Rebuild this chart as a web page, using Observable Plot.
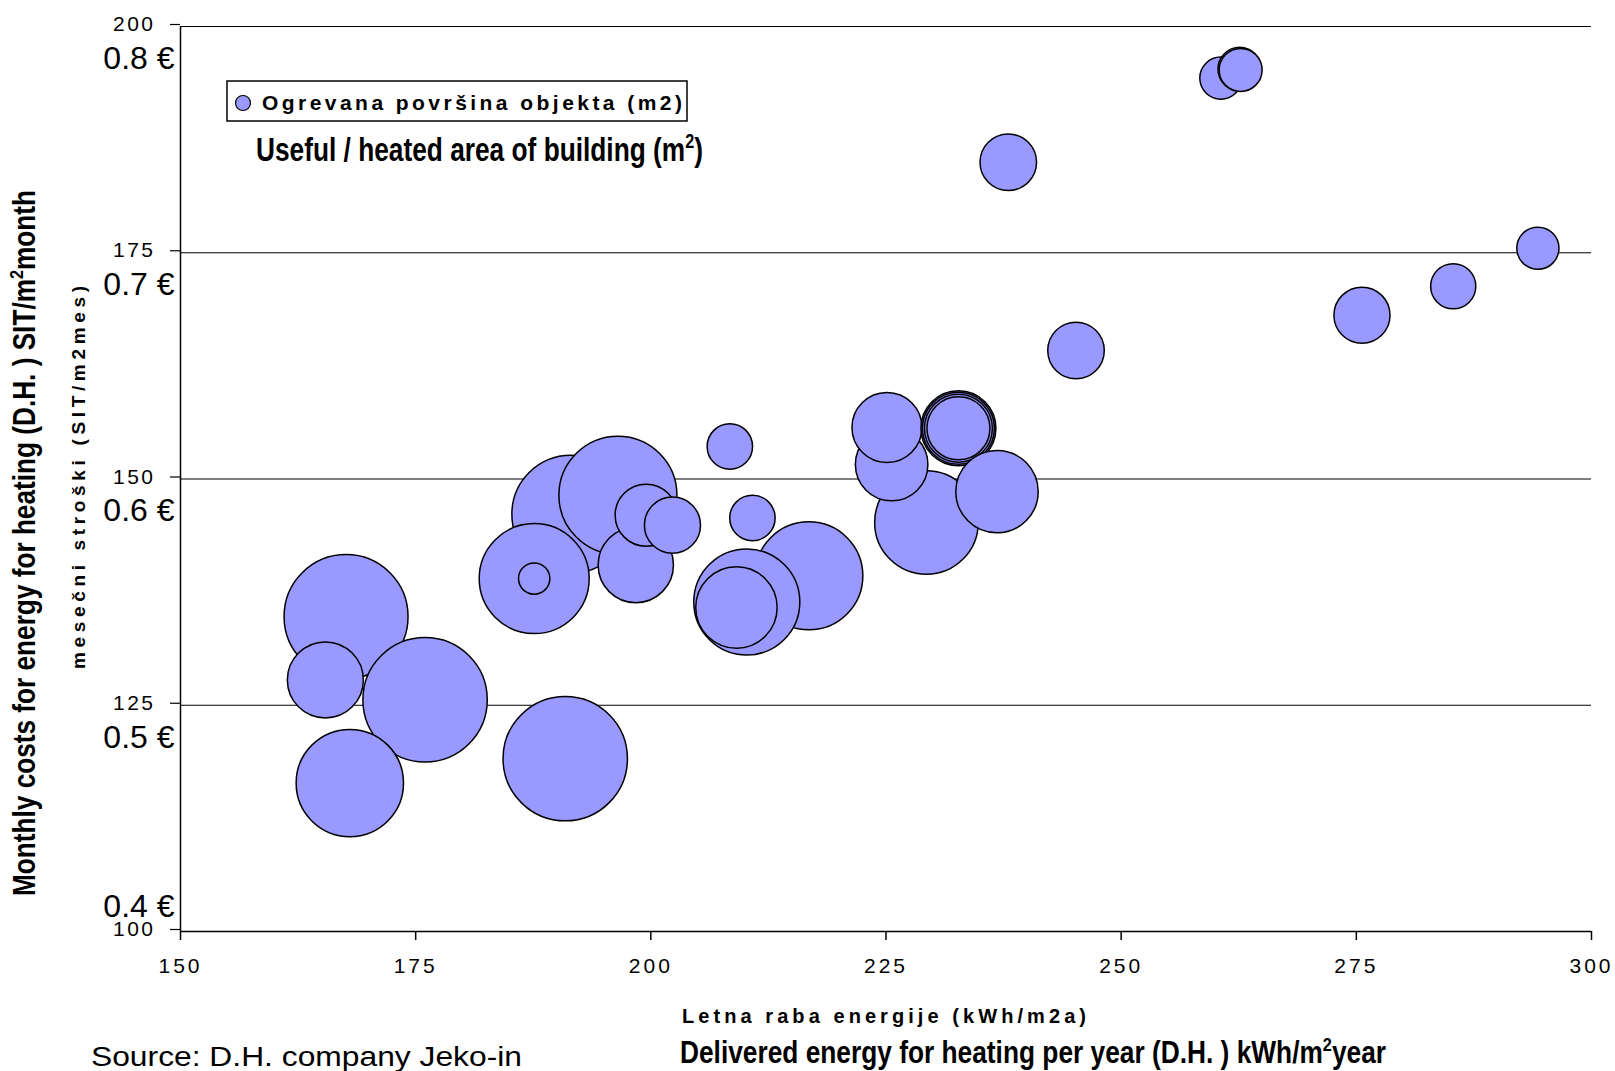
<!DOCTYPE html>
<html>
<head>
<meta charset="utf-8">
<script src="https://cdn.jsdelivr.net/npm/d3@7"></script>
<script src="https://cdn.jsdelivr.net/npm/@observablehq/plot@0.6"></script>
<style>
  html, body { margin: 0; padding: 0; background: #fff; }
  #chart { width: 1615px; height: 1071px; overflow: hidden; }
  g[aria-label="x-axis tick label"] text { letter-spacing: 3px; }
  text.ann { text-anchor: start; }
</style>
</head>
<body>
<div id="chart"></div>
<script>
// Delivered energy (kWh/m2a), monthly cost (SIT/m2 month), heated area (m2) — in drawing order
const energy = [260.6, 262.6, 262.7, 238.0, 294.3, 285.3, 275.6, 245.2,
                229.3, 225.6, 225.1, 232.7, 232.7, 232.7, 232.7, 236.8,
                208.4, 210.8, 216.8, 210.2, 209.1,
                191.5, 196.5, 198.4, 199.5, 202.3, 187.6, 187.6,
                167.6, 165.4, 176.0, 168.0, 190.9];
const cost   = [194.3, 195.3, 195.2, 185.0, 175.5, 171.3, 168.1, 164.2,
                145.2, 151.6, 155.7, 155.6, 155.6, 155.6, 155.6, 148.6,
                153.6, 145.7, 139.3, 136.4, 135.8,
                146.1, 148.2, 140.5, 146.0, 144.9, 139.0, 139.0,
                134.8, 127.8, 125.6, 116.4, 119.1];
const area   = [690, 730, 715, 1240, 690, 790, 1220, 1240,
                4160, 2040, 1900, 2180, 2010, 1790, 1540, 2630,
                800, 800, 4520, 4360, 2570,
                5400, 5400, 2200, 1490, 1220, 4690, 380,
                5960, 2240, 6000, 4470, 6000];

const xTicks = [150, 175, 200, 225, 250, 275, 300];
const yTicks = [100, 125, 150, 175, 200];
const gridLines = [125, 150, 175, 200];
const euroTicks = [125, 150, 175, 200]; // labelled as SIT/250 in €
const euroBottom = [100];

const data = energy.map((x, i) => ({x, y: cost[i], a: area[i]}));
const euro = d => (d / 250).toFixed(1) + " €";

const plot = Plot.plot({
  width: 1615,
  height: 1071,
  marginTop: 26,
  marginRight: 24,
  marginBottom: 140,
  marginLeft: 180,
  style: {fontFamily: "'Liberation Sans', Arial, sans-serif", background: "white", color: "black"},
  x: {domain: [150, 300]},
  y: {domain: [100, 200]},
  r: {type: "sqrt", domain: [0, 6000], range: [0, 62.2]},
  marks: [
    Plot.ruleY(gridLines, {stroke: "black", strokeWidth: 1.2}),
    Plot.ruleY([100], {stroke: "black", strokeWidth: 1.5}),
    Plot.ruleX([150], {stroke: "black", strokeWidth: 1.5}),
    Plot.axisX(xTicks, {tickSize: 9, tickPadding: 18, fontSize: 21, label: null, strokeWidth: 1.5}),
    Plot.axisY(yTicks, {tickSize: 10, tickPadding: 15, fontSize: 21, dy: -2, label: null, strokeWidth: 1.2}),
    Plot.axisY(euroTicks, {tickSize: 0, tickPadding: 6, fontSize: 32, dy: 32, tickFormat: euro, label: null}),
    Plot.axisY(euroBottom, {tickSize: 0, tickPadding: 6, fontSize: 32, dy: -25, tickFormat: euro, label: null}),
    Plot.dot(data, {x: "x", y: "y", r: "a", fill: "#9999ff", stroke: "black", strokeWidth: 1.5, sort: null})
  ]
});
document.getElementById("chart").appendChild(plot);

const svg = d3.select(plot);
const ff = "'Liberation Sans', Arial, sans-serif";

// letter-spacing for the SIT tick numbers only
svg.selectAll('g[aria-label="y-axis tick label"]')
  .filter((d, i) => i === 0)
  .selectAll("text").style("letter-spacing", "2.5px");

// Legend box
const lg = svg.append("g");
lg.append("rect").attr("x", 227).attr("y", 81).attr("width", 460).attr("height", 40)
  .attr("fill", "white").attr("stroke", "black").attr("stroke-width", 1.5);
lg.append("circle").attr("cx", 243).attr("cy", 103).attr("r", 7.5)
  .attr("fill", "#9999ff").attr("stroke", "black").attr("stroke-width", 1.2);
lg.append("text").attr("class", "ann").attr("text-anchor", "start")
  .attr("x", 262).attr("y", 110).attr("font-family", ff).attr("font-weight", "bold")
  .attr("font-size", 21).attr("textLength", 420).attr("lengthAdjust", "spacing")
  .text("Ogrevana površina objekta (m2)");

function supText(x, y, size, len, before, sup, after, transform) {
  const t = svg.append("text").attr("class", "ann").attr("text-anchor", "start")
    .attr("font-family", ff).attr("font-weight", "bold")
    .attr("font-size", size).attr("textLength", len).attr("lengthAdjust", "spacingAndGlyphs");
  if (transform) t.attr("transform", transform).attr("x", 0).attr("y", 0);
  else t.attr("x", x).attr("y", y);
  t.append("tspan").text(before);
  t.append("tspan").attr("font-size", size * 0.62).attr("dy", -size * 0.38).text(sup);
  t.append("tspan").attr("dy", size * 0.38).text(after);
  return t;
}

// Legend subtitle
supText(256, 161, 33, 447, "Useful / heated area of building (m", "2", ")");

// Y titles
supText(0, 0, 31, 706, "Monthly costs for energy for heating (D.H. ) SIT/m", "2", "month", "translate(35,896) rotate(-90)");
svg.append("text").attr("class", "ann").attr("text-anchor", "start")
  .attr("transform", "translate(85,669) rotate(-90)")
  .attr("font-family", ff).attr("font-weight", "bold").attr("font-size", 19)
  .attr("textLength", 383).attr("lengthAdjust", "spacing")
  .text("mesečni stroški (SIT/m2mes)");

// X titles
svg.append("text").attr("class", "ann").attr("text-anchor", "start")
  .attr("x", 682).attr("y", 1023)
  .attr("font-family", ff).attr("font-weight", "bold").attr("font-size", 20)
  .attr("textLength", 404).attr("lengthAdjust", "spacing")
  .text("Letna raba energije (kWh/m2a)");
supText(680, 1063, 31, 706, "Delivered energy for heating per year (D.H. ) kWh/m", "2", "year");

// Source
svg.append("text").attr("class", "ann").attr("text-anchor", "start")
  .attr("x", 91).attr("y", 1066)
  .attr("font-family", ff).attr("font-size", 28)
  .attr("textLength", 431).attr("lengthAdjust", "spacingAndGlyphs")
  .text("Source: D.H. company Jeko-in");
</script>
</body>
</html>
